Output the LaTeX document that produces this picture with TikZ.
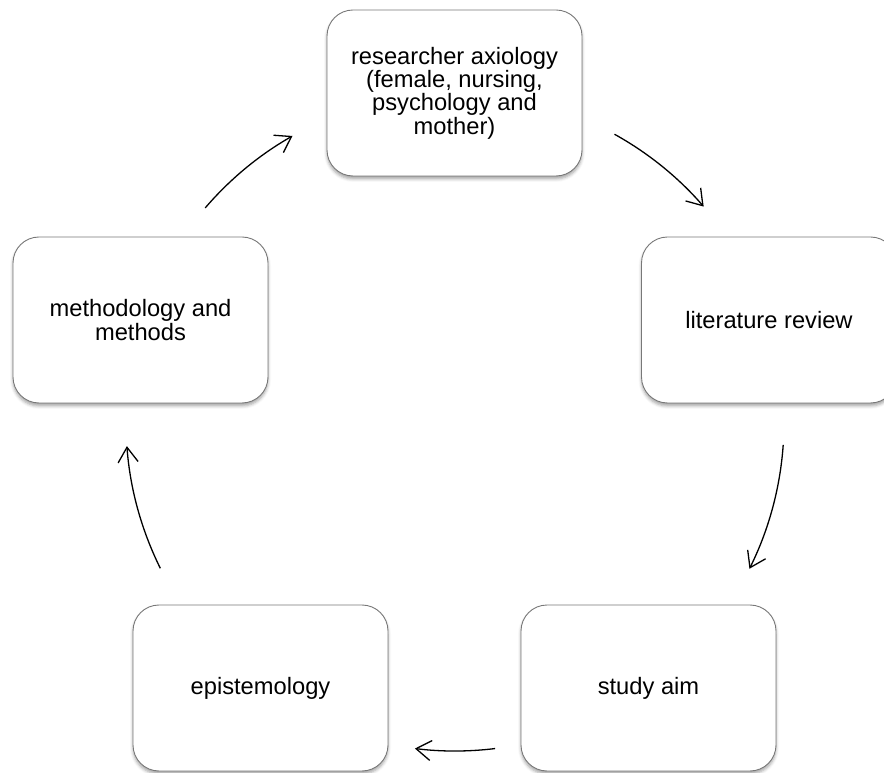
\documentclass[tikz,border=0pt]{standalone}
\usepackage{fontspec}
\setmainfont{Liberation Sans}
\usetikzlibrary{arrows.meta,shadows.blur}
\definecolor{boxline}{RGB}{120,120,120}
\tikzset{
  stage/.style={draw=boxline, line width=0.9pt, fill=white, rounded corners=26pt,
    minimum width=255pt, minimum height=166pt, align=center, inner sep=0pt,
    font=\fontsize{23.7}{23.4}\selectfont,
    blur shadow={shadow xshift=0pt, shadow yshift=-3pt, shadow blur radius=3pt, shadow opacity=35}},
  flow/.style={line width=1.3pt, black,
    -{Straight Barb[length=15pt, width=20pt, line width=1.3pt]}}
}
\begin{document}
\begin{tikzpicture}[x=1pt,y=1pt]
  \useasboundingbox (0,0) rectangle (884,772);
  \coordinate (cen) at (455,350);

  % the five stages of the cycle
  \node[stage] (axiology) at (454.5,679) {researcher axiology\\(female, nursing,\\psychology and\\mother)};
  \node[stage] (literature) at (769,452) {literature review};
  \node[stage] (aim) at (648.5,84) {study aim};
  \node[stage] (episte) at (260.5,84) {epistemology};
  \node[stage] (method) at (140.5,452) {methodology and\\methods};

  % arc end points on the common circle
  \coordinate (s1) at ([shift={(61:329)}]cen);
  \coordinate (s2) at ([shift={(-4:329)}]cen);
  \coordinate (s3) at ([shift={(-83:329)}]cen);
  \coordinate (s4) at ([shift={(206.4:329)}]cen);
  \coordinate (s5) at ([shift={(139.4:329)}]cen);

  % curved arrows between the stages
  \draw[flow] (s1) arc[start angle=61, end angle=40.9, radius=329];
  \draw[flow] (s2) arc[start angle=-4, end angle=-26.5, radius=329];
  \draw[flow] (s3) arc[start angle=-83, end angle=-97, radius=329];
  \draw[flow] (s4) arc[start angle=206.4, end angle=184.2, radius=329];
  \draw[flow] (s5) arc[start angle=139.4, end angle=119.6, radius=329];
\end{tikzpicture}
\end{document}
